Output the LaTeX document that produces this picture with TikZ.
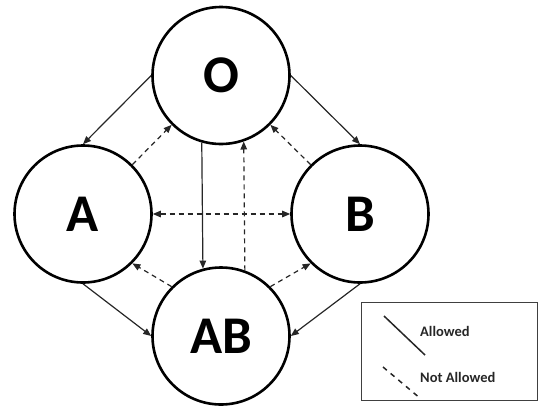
\documentclass[tikz,border=0pt]{standalone}
\usepackage{fontspec}
\setmainfont{Carlito}
\usetikzlibrary{arrows.meta}
\begin{document}
\begin{tikzpicture}[x=1pt,y=-1pt,
  state/.style={circle,draw=black,line width=2.6pt,minimum size=137pt,inner sep=0pt,font=\fontsize{53}{53}\selectfont\bfseries},
  allowed/.style={line width=1.2pt,draw=black!85,-{Triangle[length=8pt,width=6.5pt]}},
  notallowed/.style={allowed,dash pattern=on 5pt off 4pt},
  twoway/.style={notallowed,{Triangle[length=8pt,width=6.5pt]}-{Triangle[length=8pt,width=6.5pt]}},
  legtext/.style={anchor=west,font=\fontsize{14.5}{14.5}\selectfont\bfseries,text=black!85,inner sep=0pt}]
\useasboundingbox (0,0) rectangle (538,408);
\node[state] (O) at (221,75.5) {O};
\node[state] (A) at (83,214) {A};
\node[state] (B) at (360,214) {B};
\node[state] (AB) at (221,336) {AB};
% allowed
\draw[allowed] (O.180) -- (A.90);
\draw[allowed] (O.0) -- (B.90);
\draw[allowed] (A.270) -- (AB.180);
\draw[allowed] (B.270) -- (AB.0);
\draw[allowed] (O.254.3) -- (AB.105.7);
% not allowed
\draw[notallowed] (AB.70.8) -- (O.289.2);
\draw[twoway] (A.0) -- (B.180);
\draw[notallowed] (A.45) -- (O.225);
\draw[notallowed] (B.135) -- (O.315);
\draw[notallowed] (AB.135) -- (A.315);
\draw[notallowed] (AB.45) -- (B.225);
% legend
\node[draw=black!75,line width=1pt,minimum width=176pt,minimum height=98pt,anchor=north west,inner sep=0pt] (leg) at (361,302) {};
\coordinate (s1) at (384,316);
\coordinate (s2) at (425,355);
\draw[line width=1.5pt,draw=black!85] (s1) -- (s2);
\coordinate (d1) at (383,367);
\coordinate (d2) at (421,399);
\draw[line width=1.5pt,draw=black!85,dash pattern=on 5pt off 5pt] (d1) -- (d2);
\node[legtext] (la) at (420,331) {Allowed};
\node[legtext] (lna) at (420,377) {Not Allowed};
\end{tikzpicture}
\end{document}
